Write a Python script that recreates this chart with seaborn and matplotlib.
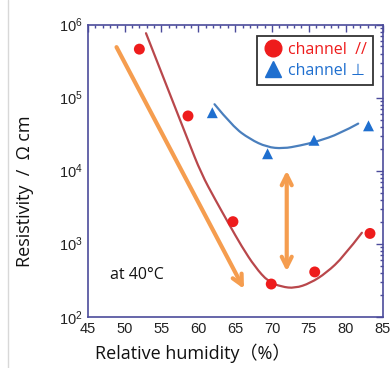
import numpy as np
import pandas as pd
import matplotlib
matplotlib.use("Agg")
import matplotlib.pyplot as plt
from matplotlib.lines import Line2D
from matplotlib.path import Path
from matplotlib.patches import PathPatch
import seaborn as sns

# Measured resistivity at 40 degC
rh_par = [52.0, 58.6, 64.7, 69.9, 75.8, 83.3]
rho_par = [4.6e5, 5.6e4, 2.0e3, 280, 410, 1380]

rh_perp = [61.9, 69.4, 75.7, 83.1]
rho_perp = [6.2e4, 1.7e4, 2.6e4, 4.1e4]

# Guide curves through each series
curve_par_x = [52.9, 58.6, 60.4, 62.3, 64.1, 65.9, 67.7, 69.5, 71.3, 73.1, 75.2, 77.4, 79.7, 82.2]
curve_par_y = [7.6e5, 2.6e4, 9.1e3, 4.0e3, 1.9e3, 910, 480, 300, 257, 245, 288, 400, 660, 1410]

curve_perp_x = [62.2, 64.7, 67.0, 69.3, 71.5, 73.8, 76.1, 79.2, 81.7]
curve_perp_y = [8.1e4, 4.0e4, 2.7e4, 2.1e4, 2.0e4, 2.2e4, 2.5e4, 3.2e4, 4.4e4]

# Trend arrows (start, end) in data units
trend_arrow = [(48.9, 4.9e5), (66.2, 240)]
gap_arrow = [(72.0, 1.0e4), (72.0, 417)]

x_ticks = [45, 50, 55, 60, 65, 70, 75, 80, 85]

RED = "#ee1c1c"
RED_LINE = "#b9474b"
BLUE = "#1f6fcf"
BLUE_LINE = "#4a7fbd"
ORANGE = "#f59d4f"
AXIS = "#4b4b9b"

sns.set_theme(style="white")
plt.rcParams["font.family"] = ["Liberation Sans", "DejaVu Sans"]
plt.rcParams["mathtext.fontset"] = "custom"
plt.rcParams["mathtext.rm"] = "Liberation Sans"
plt.rcParams["mathtext.it"] = "Liberation Sans"

fig = plt.figure(figsize=(3.9, 3.68), dpi=100)
ax = fig.add_axes([0.2251, 0.1394, 0.7557, 0.7940])
ax.set_yscale("log")


def smooth_guide(ax, xs, ys, color, lw):
    """Draw a smooth guide line using the given points as quadratic Bezier controls."""
    xs = np.asarray(xs, float)
    ly = np.log10(np.asarray(ys, float))
    verts = [(xs[0], 10 ** ly[0])]
    codes = [Path.MOVETO]
    for i in range(1, len(xs) - 1):
        mx = 0.5 * (xs[i] + xs[i + 1])
        my = 10 ** (0.5 * (ly[i] + ly[i + 1]))
        if i == len(xs) - 2:
            mx, my = xs[-1], 10 ** ly[-1]
        verts += [(xs[i], 10 ** ly[i]), (mx, my)]
        codes += [Path.CURVE3, Path.CURVE3]
    ax.add_patch(PathPatch(Path(verts, codes), facecolor="none", edgecolor=color,
                           lw=lw, capstyle="round", zorder=2))


smooth_guide(ax, curve_par_x, curve_par_y, RED_LINE, 1.6)
smooth_guide(ax, curve_perp_x, curve_perp_y, BLUE_LINE, 1.6)

for (x0, y0), (x1, y1), style in [(trend_arrow[0], trend_arrow[1], "->"),
                                  (gap_arrow[0], gap_arrow[1], "<->")]:
    ax.annotate("", xy=(x1, y1), xytext=(x0, y0),
                arrowprops=dict(arrowstyle=style, color=ORANGE, lw=3.0,
                                mutation_scale=18, shrinkA=0, shrinkB=0))

sns.scatterplot(x=rh_par, y=rho_par, marker="o", s=62, color=RED, edgecolor="none", ax=ax, zorder=5)
sns.scatterplot(x=rh_perp, y=rho_perp, marker="^", s=62, color=BLUE, edgecolor="none", ax=ax, zorder=5)

ax.set_xlim(45, 85)
ax.set_ylim(1e2, 1e6)
ax.set_xticks(x_ticks)
ax.set_xticklabels([str(t) for t in x_ticks])
ax.xaxis.set_minor_locator(matplotlib.ticker.MultipleLocator(1))
ax.yaxis.set_minor_locator(matplotlib.ticker.LogLocator(base=10, subs=np.arange(2, 10), numticks=20))
ax.set_xlabel("")
ax.set_ylabel("")

for sp in ax.spines.values():
    sp.set_color(AXIS)
    sp.set_linewidth(1.2)
ax.tick_params(which="both", direction="in", top=True, right=True, color=AXIS, width=1.0,
               labelcolor="#222222", labelsize=10.5)
ax.tick_params(which="major", length=5)
ax.tick_params(which="minor", length=2.5)
ax.tick_params(axis="x", pad=4)

handles = [Line2D([], [], marker="o", ls="none", color=RED, markersize=12),
           Line2D([], [], marker="^", ls="none", color=BLUE, markersize=12)]
leg = ax.legend(handles, ["channel  //", "channel ⊥"], loc="upper right",
                bbox_to_anchor=(0.967, 0.962), borderaxespad=0, frameon=True, fancybox=False,
                handletextpad=0.3, handlelength=1.2, borderpad=0.4, labelspacing=0.3,
                prop={"family": ["Open Sans", "DejaVu Sans"], "size": 11.5})
leg.get_frame().set_edgecolor("black")
leg.get_frame().set_linewidth(1.3)
for txt, c in zip(leg.get_texts(), [RED, BLUE]):
    txt.set_color(c)

ax.text(0.075, 0.143, "at 40°C", transform=ax.transAxes, fontsize=11.5,
        family=["Open Sans", "DejaVu Sans"], color="#111111", va="center", ha="left")

fig.text(25 / 390, 1 - 191 / 368, "Resistivity  /  Ω cm", rotation=90, ha="center", va="center",
         fontsize=13, family=["Open Sans", "DejaVu Sans"], color="#111111")
fig.text(193 / 390, 1 - 353 / 368, "Relative humidity（%）", ha="center", va="center",
         fontsize=13, family=["Open Sans", "Noto Sans CJK JP"], color="#111111")

fig.add_artist(Line2D([7.5 / 390, 7.5 / 390], [0, 1], transform=fig.transFigure,
                      color="#d8d8d8", lw=1))

fig.savefig("out.png", dpi=100)
